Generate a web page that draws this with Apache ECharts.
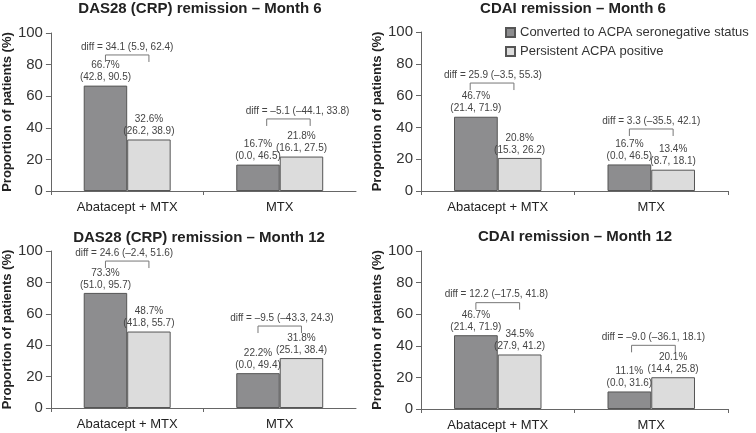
<!DOCTYPE html>
<html>
<head>
<meta charset="utf-8">
<script src="https://cdn.jsdelivr.net/npm/echarts@6/dist/echarts.min.js"></script>
<style>html,body{margin:0;padding:0;background:#fff}#c{width:756px;height:433px}</style>
</head>
<body>
<div id="c"></div>
<script>
// ---------- data ----------
const categories = ['Abatacept + MTX', 'MTX'];
const panelTitles = [
  'DAS28 (CRP) remission \u2013 Month 6',
  'CDAI remission \u2013 Month 6',
  'DAS28 (CRP) remission \u2013 Month 12',
  'CDAI remission \u2013 Month 12'
];
const seriesNames = ['Converted to ACPA seronegative status', 'Persistent ACPA positive'];
const yTicks = [0, 20, 40, 60, 80, 100];

const convertedDAS6  = [66.7, 16.7];
const persistentDAS6 = [32.6, 21.8];
const convertedCDAI6  = [46.7, 16.7];
const persistentCDAI6 = [20.8, 13.4];
const convertedDAS12  = [73.3, 22.2];
const persistentDAS12 = [48.7, 31.8];
const convertedCDAI12  = [46.7, 11.1];
const persistentCDAI12 = [34.5, 20.1];

const convertedCI_DAS6  = ['42.8, 90.5', '0.0, 46.5'];
const persistentCI_DAS6 = ['26.2, 38.9', '16.1, 27.5'];
const convertedCI_CDAI6  = ['21.4, 71.9', '0.0, 46.5'];
const persistentCI_CDAI6 = ['15.3, 26.2', '8.7, 18.1'];
const convertedCI_DAS12  = ['51.0, 95.7', '0.0, 49.4'];
const persistentCI_DAS12 = ['41.8, 55.7', '25.1, 38.4'];
const convertedCI_CDAI12  = ['21.4, 71.9', '0.0, 31.6'];
const persistentCI_CDAI12 = ['27.9, 41.2', '14.4, 25.8'];

const diffDAS6   = ['34.1 (5.9, 62.4)', '\u20135.1 (\u201344.1, 33.8)'];
const diffCDAI6  = ['25.9 (\u20133.5, 55.3)', '3.3 (\u201335.5, 42.1)'];
const diffDAS12  = ['24.6 (\u20132.4, 51.6)', '\u20139.5 (\u201343.3, 24.3)'];
const diffCDAI12 = ['12.2 (\u201317.5, 41.8)', '\u20139.0 (\u201336.1, 18.1)'];

// ---------- annotation layout (value level of the diff bracket, shifts in bar widths) ----------
const bracketLevel = [[86.1, 45.6], [67.9, 39.0], [93.6, 52.2], [67.3, 40.3]];
const bracketShift = [[0, 0.2], [-0.13, 0], [0, 0], [0, 0.05]];
const diffTextShift = [[0, 0.41], [-0.11, 0], [-0.07, 0.05], [-0.03, 0.05]];

// ---------- assembly ----------
const converted = [convertedDAS6, convertedCDAI6, convertedDAS12, convertedCDAI12];
const persistent = [persistentDAS6, persistentCDAI6, persistentDAS12, persistentCDAI12];
const convertedCI = [convertedCI_DAS6, convertedCI_CDAI6, convertedCI_DAS12, convertedCI_CDAI12];
const persistentCI = [persistentCI_DAS6, persistentCI_CDAI6, persistentCI_DAS12, persistentCI_CDAI12];
const diffs = [diffDAS6, diffCDAI6, diffDAS12, diffCDAI12];

const FONT = '"Liberation Sans", Arial, Helvetica, sans-serif';
const DARK = '#8d8d8f';
const LIGHT = '#dcdcdc';
const BORDER = '#555555';
const AXIS = '#666666';
const BAR_FRAC = 0.285;

const grids = [
  {left: 49, top: 33, width: 307, height: 158},
  {left: 421, top: 32, width: 307, height: 159},
  {left: 49, top: 251, width: 307, height: 157},
  {left: 421, top: 251, width: 307, height: 158}
];
const titleCenters = [[200, 1], [573, 1], [199, 230], [575, 229]];

const xAxes = [], yAxes = [], series = [], titles = [];
for (let p = 0; p < 4; p++) {
  titles.push({
    text: panelTitles[p], left: titleCenters[p][0], top: titleCenters[p][1], textAlign: 'center', padding: 0,
    textStyle: {fontFamily: FONT, fontSize: 15, fontWeight: 'bold', color: '#222'}
  });
  xAxes.push({
    type: 'category', gridIndex: p, data: categories,
    axisLine: {lineStyle: {color: AXIS}},
    axisTick: {show: true, length: 4, lineStyle: {color: AXIS}},
    axisLabel: {fontFamily: FONT, fontSize: 13, color: '#222', margin: 10}
  });
  yAxes.push({
    type: 'value', gridIndex: p, min: 0, max: 100, interval: 20,
    name: 'Proportion of patients (%)', nameLocation: 'middle', nameRotate: 90, nameGap: 36,
    nameTextStyle: {fontFamily: FONT, fontSize: 13, fontWeight: 'bold', color: '#222'},
    axisLine: {show: true, lineStyle: {color: AXIS}},
    axisTick: {show: true, length: 5, lineStyle: {color: AXIS}},
    splitLine: {show: false},
    axisLabel: {fontFamily: FONT, fontSize: 15, color: '#333', margin: 8,
      formatter: v => yTicks.indexOf(v) >= 0 ? String(v) : ''}
  });
  const labelStyle = {
    show: true, position: 'top', distance: 2, fontFamily: FONT, fontSize: 10, lineHeight: 12, color: '#444'
  };
  series.push({
    name: seriesNames[0], type: 'bar', xAxisIndex: p, yAxisIndex: p,
    data: converted[p], barWidth: (BAR_FRAC * 100) + '%', barGap: '0%',
    itemStyle: {color: DARK, borderColor: BORDER, borderWidth: 1},
    label: Object.assign({}, labelStyle, {
      formatter: (d) => d.value.toFixed(1) + '%\n(' + convertedCI[p][d.dataIndex] + ')'
    }),
    emphasis: {disabled: true}, silent: true
  });
  series.push({
    name: seriesNames[1], type: 'bar', xAxisIndex: p, yAxisIndex: p,
    data: persistent[p], barWidth: (BAR_FRAC * 100) + '%', barGap: '0%',
    itemStyle: {color: LIGHT, borderColor: BORDER, borderWidth: 1},
    label: Object.assign({}, labelStyle, {
      formatter: (d) => d.value.toFixed(1) + '%\n(' + persistentCI[p][d.dataIndex] + ')'
    }),
    emphasis: {disabled: true}, silent: true
  });
  series.push({
    type: 'custom', xAxisIndex: p, yAxisIndex: p, silent: true,
    data: categories.map((c, i) => [i, bracketLevel[p][i], bracketShift[p][i], diffTextShift[p][i]]),
    renderItem: function (params, api) {
      const idx = api.value(0);
      const pt = api.coord([idx, api.value(1)]);
      const band = api.size([1, 0])[0];
      const bw = band * BAR_FRAC;
      const xl = pt[0] - bw / 2 + api.value(2) * bw;
      const xr = pt[0] + bw / 2 + api.value(2) * bw;
      const tick = 7;
      return {
        type: 'group',
        children: [
          {type: 'polyline',
           shape: {points: [[xl, pt[1] + tick], [xl, pt[1]], [xr, pt[1]], [xr, pt[1] + tick]]},
           style: {stroke: '#777', lineWidth: 1, fill: null}},
          {type: 'text',
           style: {text: 'diff = ' + diffs[p][idx], x: pt[0] + api.value(3) * bw, y: pt[1] - 3,
                   textAlign: 'center', textVerticalAlign: 'bottom',
                   fontFamily: FONT, fontSize: 10, fill: '#444'}}
        ]
      };
    }
  });
}

const chart = echarts.init(document.getElementById('c'), null, {renderer: 'canvas'});
chart.setOption({
  animation: false,
  backgroundColor: '#fff',
  title: titles,
  legend: {
    data: seriesNames, orient: 'vertical', left: 505, top: 26, padding: 0,
    itemWidth: 9, itemHeight: 9, itemGap: 6, icon: 'rect',
    textStyle: {fontFamily: FONT, fontSize: 13, color: '#333'},
    selectedMode: false
  },
  grid: grids,
  xAxis: xAxes,
  yAxis: yAxes,
  series: series
});
</script>
</body>
</html>
